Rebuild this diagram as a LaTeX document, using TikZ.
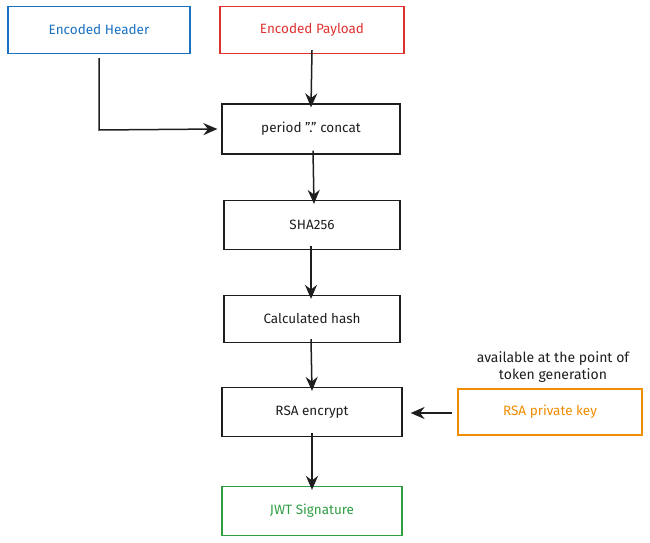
\documentclass[tikz,border=0pt]{standalone}
\usepackage{fontspec}
\setmainfont{Fira Sans}
\usetikzlibrary{arrows.meta}
\definecolor{inkc}{HTML}{1E1E1E}
\definecolor{bluec}{HTML}{1971C2}
\definecolor{redc}{HTML}{E03131}
\definecolor{orangec}{HTML}{F08C00}
\definecolor{greenc}{HTML}{2F9E44}
\tikzset{
  sbox/.style={draw=#1, text=#1, line width=1.2pt, minimum width=180pt, minimum height=47pt,
    font=\fontsize{13.5}{15}\selectfont, inner sep=0pt},
  sbox/.default=inkc,
  conn/.style={draw=inkc, line width=1.5pt, -{Stealth[length=14pt,width=12pt]}},
  note/.style={text=inkc, font=\fontsize{14}{17}\selectfont, align=center}
}
\begin{document}
\begin{tikzpicture}[x=1pt,y=-1pt]
\useasboundingbox (0,0) rectangle (650,543);
\node[sbox=bluec, minimum width=182pt] (hdr) at (99,30) {Encoded Header};
\node[sbox=redc, minimum width=184pt] (pay) at (312,30) {Encoded Payload};
\node[sbox, minimum width=178pt, minimum height=50pt] (cat) at (311,129) {period \symbol{34}.\symbol{34} concat};
\node[sbox, minimum width=176pt, minimum height=49pt] (sha) at (312,225) {SHA256};
\node[sbox, minimum width=176pt, minimum height=47pt] (hash) at (312,319) {Calculated hash};
\node[sbox, minimum width=180pt, minimum height=49pt] (rsa) at (312,412) {RSA encrypt};
\node[sbox=greenc, minimum width=180pt, minimum height=49pt] (jwt) at (312,511) {JWT Signature};
\node[sbox=orangec, minimum width=184pt, minimum height=46pt] (key) at (550,412) {RSA private key};
\node[note] (avail) at (553,367) {available at the point of\\token generation};
\coordinate (bend) at (99,130);
\draw[conn] (hdr.south) ++(0,4) -- (bend) -- ([xshift=-4pt]cat.west);
\draw[conn] ([yshift=4pt]pay.south) -- ([yshift=-4pt]cat.north);
\draw[conn] ([yshift=4pt,xshift=2pt]cat.south) -- ([yshift=-4pt,xshift=2pt]sha.north);
\draw[conn] ([yshift=4pt,xshift=-1pt]sha.south) -- ([yshift=-4pt,xshift=-1pt]hash.north);
\draw[conn] ([yshift=4pt,xshift=-1pt]hash.south) -- ([yshift=-4pt]rsa.north);
\draw[conn] ([yshift=4pt]rsa.south) -- ([yshift=-4pt]jwt.north);
\draw[conn] ([xshift=-5pt,yshift=-1pt]key.west) -- ([xshift=8pt,yshift=-1pt]rsa.east);
\end{tikzpicture}
\end{document}
